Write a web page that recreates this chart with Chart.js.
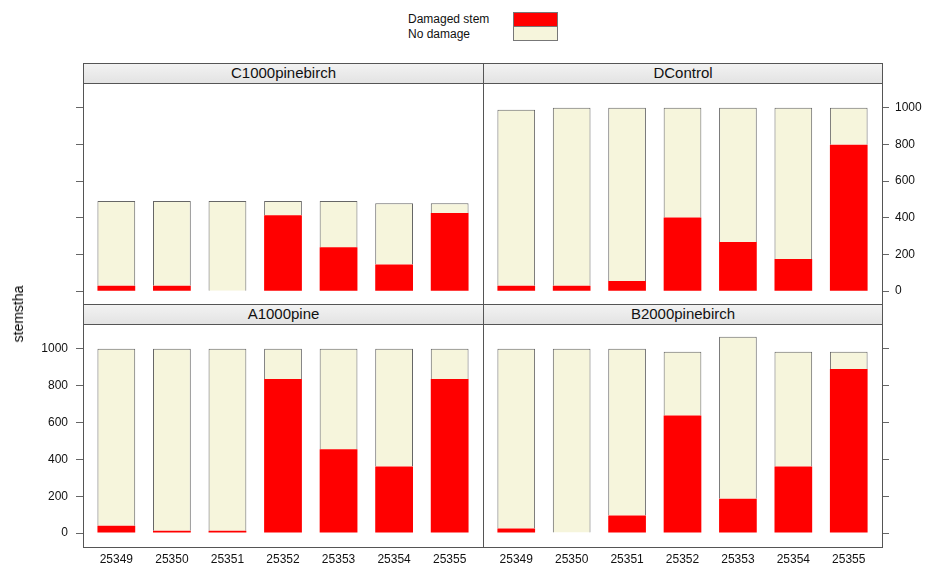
<!DOCTYPE html>
<html>
<head>
<meta charset="utf-8">
<script src="https://cdn.jsdelivr.net/npm/chart.js@4/dist/chart.umd.min.js"></script>
<style>
  body { margin: 0; background: #fff; font-family: "Liberation Sans", Arial, sans-serif; }
  #wrap { position: relative; width: 926px; height: 568px; overflow: hidden; }
  canvas { position: absolute; }
  .box { position: absolute; box-sizing: border-box; border: 1px solid #555; pointer-events: none; }
  .strip { position: absolute; box-sizing: border-box; border-bottom: 1px solid #555;
           background: linear-gradient(#f3f3f3, #e3e3e3); text-align: center;
           font-size: 15px; line-height: 19px; color: #111; }
  .leg { position: absolute; font-size: 12px; color: #111; }
  .sw { position: absolute; box-sizing: border-box; border: 1px solid #777; }
  #ytitle { position: absolute; left: 18px; top: 314px; font-size: 14px; color: #000;
            transform: translate(-50%, -50%) rotate(-90deg); white-space: nowrap; }
</style>
</head>
<body>
<div id="wrap">
  <div class="leg" style="left:408px; top:12px;">Damaged stem</div>
  <div class="leg" style="left:408px; top:27px;">No damage</div>
  <div id="swRed" class="sw" style="left:513px; top:12px; width:45px; height:15px;"></div>
  <div id="swCream" class="sw" style="left:513px; top:26px; width:45px; height:15px;"></div>
  <div id="ytitle">stemstha</div>
</div>
<script>
// stand ids on the x axis
var categories = ["25349", "25350", "25351", "25352", "25353", "25354", "25355"];
var yTicks = [0, 200, 400, 600, 800, 1000];

// stems per ha, per panel
var damagedC = [29, 29, 0, 414, 240, 146, 426];
var noDamageC = [463, 463, 492, 78, 252, 333, 53];
var damagedD = [29, 29, 56, 401, 268, 175, 798];
var noDamageD = [960, 971, 944, 599, 732, 825, 202];
var damagedA = [40, 13, 13, 836, 455, 362, 836];
var noDamageA = [960, 987, 987, 164, 545, 638, 164];
var damagedB = [25, 0, 95, 639, 186, 362, 891];
var noDamageB = [975, 1000, 905, 345, 880, 622, 93];

var red = "#ff0000";
var cream = "#f6f5dc";

document.getElementById("swRed").style.background = red;
document.getElementById("swCream").style.background = cream;

var panels = [
  {name: "C1000pinebirch", dmg: damagedC, ok: noDamageC, left: 0, top: 83, w: 483, h: 221, side: "left", labels: false, xaxis: false},
  {name: "DControl", dmg: damagedD, ok: noDamageD, left: 483, top: 83, w: 443, h: 221, side: "right", labels: true, xaxis: false},
  {name: "A1000pine", dmg: damagedA, ok: noDamageA, left: 0, top: 324, w: 483, h: 244, side: "left", labels: true, xaxis: true},
  {name: "B2000pinebirch", dmg: damagedB, ok: noDamageB, left: 483, top: 324, w: 443, h: 244, side: "right", labels: false, xaxis: true}
];

var wrap = document.getElementById("wrap");

function toPoints(arr){
  return arr.map(function(v, i){ return {x: i + 1, y: v}; });
}

panels.forEach(function(p){
  var px = p.side == "left" ? 83 : 483;
  var py = p.top - 20;

  var box = document.createElement("div");
  box.className = "box";
  box.style.left = px + "px";
  box.style.top = (py) + "px";
  box.style.width = (p.side == "left" ? 401 : 400) + "px";
  box.style.height = (p.top == 83 ? 242 : 244) + "px";

  var strip = document.createElement("div");
  strip.className = "strip";
  strip.style.left = px + "px";
  strip.style.top = py + "px";
  strip.style.width = (p.side == "left" ? 401 : 400) + "px";
  strip.style.height = "21px";
  strip.textContent = p.name;

  var cv = document.createElement("canvas");
  cv.width = p.w;
  cv.height = p.h;
  cv.style.left = p.left + "px";
  cv.style.top = p.top + "px";
  wrap.insertBefore(cv, wrap.firstChild);
  wrap.appendChild(strip);
  wrap.appendChild(box);

  var axisW = p.side == "left" ? 83 : 44;
  var axisH = p.xaxis ? 22 : 0;

  new Chart(cv.getContext("2d"), {
    type: "bar",
    data: {
      datasets: [{
        label: "Damaged stem",
        data: toPoints(p.dmg),
        backgroundColor: red,
        borderWidth: 0
      },
      {
        label: "No damage",
        data: toPoints(p.ok),
        backgroundColor: cream,
        borderColor: "#666",
        borderWidth: 1,
        borderSkipped: "start"
      }]
    },
    options: {
      responsive: false,
      animation: false,
      layout: {padding: 0},
      datasets: {bar: {categoryPercentage: 1, barPercentage: 0.68}},
      plugins: {legend: {display: false}, tooltip: {enabled: false}},
      scales: {
        x: {
          type: "linear",
          stacked: true,
          offset: false,
          min: 0.4,
          max: 7.6,
          display: p.xaxis,
          grid: {display: false, drawTicks: false},
          border: {display: false},
          ticks: {
            stepSize: 1,
            includeBounds: false,
            autoSkip: false,
            maxRotation: 0,
            padding: 6,
            color: "#111",
            font: {family: "Liberation Sans", size: 12},
            callback: function(v){ return categories[v - 1]; }
          },
          afterFit: function(s){ s.height = axisH; s.paddingLeft = 0; s.paddingRight = 0; }
        },
        y: {
          stacked: true,
          position: p.side,
          bounds: "data",
          min: -70,
          max: 1135,
          grid: {drawOnChartArea: false, drawTicks: true, tickLength: 7, color: "#666"},
          border: {display: false},
          afterBuildTicks: function(s){ s.ticks = yTicks.map(function(v){ return {value: v}; }); },
          ticks: {
            display: p.labels,
            padding: p.side == "left" ? 8 : 6,
            color: "#111",
            font: {family: "Liberation Sans", size: 12},
            callback: function(v){ return String(v); }
          },
          afterFit: function(s){ s.width = axisW; s.paddingTop = 0; s.paddingBottom = 0; }
        }
      }
    }
  });
});
</script>
</body>
</html>
